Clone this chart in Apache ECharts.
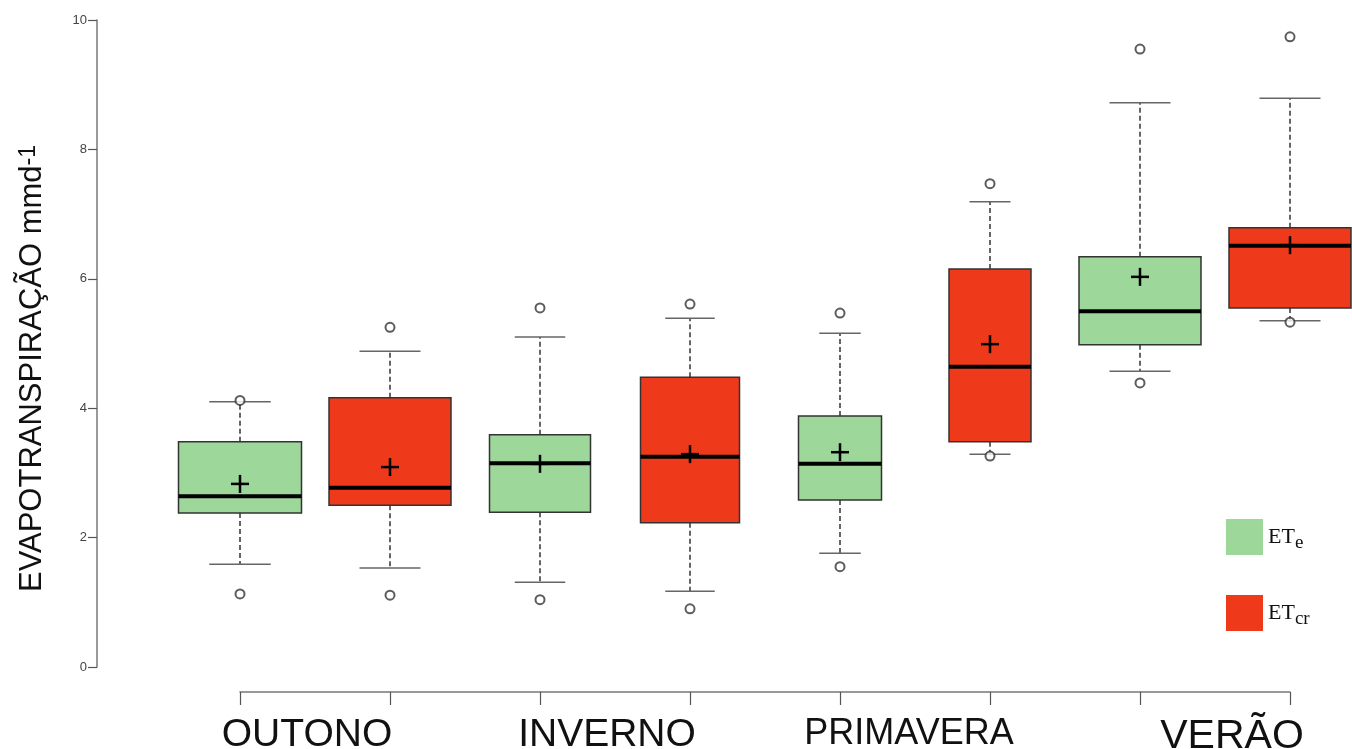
<!DOCTYPE html>
<html>
<head>
<meta charset="utf-8">
<script src="https://cdn.jsdelivr.net/npm/echarts@6/dist/echarts.min.js"></script>
<style>
  html, body { margin: 0; padding: 0; background: #ffffff; }
  #chart { width: 1352px; height: 749px; }
</style>
</head>
<body>
<div id="chart"></div>
<script>
// ---------- DATA ----------
const seasons = ['OUTONO', 'INVERNO', 'PRIMAVERA', 'VERÃO'];
const slots = ['OUTONO-ETe', 'OUTONO-ETcr', 'INVERNO-ETe', 'INVERNO-ETcr',
               'PRIMAVERA-ETe', 'PRIMAVERA-ETcr', 'VERÃO-ETe', 'VERÃO-ETcr'];
const yTicks = [0, 2, 4, 6, 8, 10];

// [min whisker, Q1, median, Q3, max whisker]
const eteStats = [
  [1.59, 2.38, 2.64, 3.48, 4.10],
  [1.31, 2.39, 3.15, 3.59, 5.10],
  [1.76, 2.58, 3.14, 3.88, 5.16],
  [4.57, 4.98, 5.50, 6.34, 8.72]
];
const eteMeans = [2.83, 3.14, 3.32, 6.03];
const eteOutliers = [[4.12, 1.13], [5.55, 1.04], [5.47, 1.55], [9.55, 4.39]];

const etcrStats = [
  [1.53, 2.50, 2.77, 4.16, 4.88],
  [1.17, 2.23, 3.25, 4.48, 5.39],
  [3.29, 3.48, 4.64, 6.15, 7.19],
  [5.35, 5.55, 6.51, 6.79, 8.79]
];
const etcrMeans = [3.09, 3.29, 4.99, 6.52];
const etcrOutliers = [[5.25, 1.11], [5.61, 0.90], [7.47, 3.26], [9.74, 5.33]];

// ---------- STYLE ----------
const GREEN = '#9dd79a';
const RED = '#ee3a1b';
const eteBoxWidths = [123, 101, 83, 122];   // px, per season (style)
const etcrBoxWidths = [122, 99, 82, 122];

function makeRender(widths, fill) {
  return function (params, api) {
    const i = params.dataIndex;
    const xi = api.value(0);
    const pt = v => api.coord([xi, v]);
    const cx = pt(api.value(1))[0];
    const yMin = pt(api.value(1))[1];
    const yQ1 = pt(api.value(2))[1];
    const yMed = pt(api.value(3))[1];
    const yQ3 = pt(api.value(4))[1];
    const yMax = pt(api.value(5))[1];
    const yMean = pt(api.value(6))[1];
    const w = widths[i], hw = w / 2, cap = w / 4;
    const dash = { stroke: '#333', lineWidth: 1.5, lineDash: [5, 3] };
    const capS = { stroke: '#666', lineWidth: 1.5 };
    return {
      type: 'group',
      children: [
        { type: 'line', shape: { x1: cx, y1: yQ1, x2: cx, y2: yMin }, style: dash },
        { type: 'line', shape: { x1: cx, y1: yQ3, x2: cx, y2: yMax }, style: dash },
        { type: 'line', shape: { x1: cx - cap, y1: yMin, x2: cx + cap, y2: yMin }, style: capS },
        { type: 'line', shape: { x1: cx - cap, y1: yMax, x2: cx + cap, y2: yMax }, style: capS },
        { type: 'rect', shape: { x: cx - hw, y: yQ3, width: w, height: yQ1 - yQ3 },
          style: { fill: fill, stroke: '#333', lineWidth: 1.5 } },
        { type: 'line', shape: { x1: cx - hw, y1: yMed, x2: cx + hw, y2: yMed },
          style: { stroke: '#000', lineWidth: 4 } },
        { type: 'line', shape: { x1: cx - 9, y1: yMean, x2: cx + 9, y2: yMean },
          style: { stroke: '#000', lineWidth: 2.5 } },
        { type: 'line', shape: { x1: cx, y1: yMean - 9, x2: cx, y2: yMean + 9 },
          style: { stroke: '#000', lineWidth: 2.5 } }
      ]
    };
  };
}

const eteData = eteStats.map((s, i) => [2 * i, ...s, eteMeans[i]]);
const etcrData = etcrStats.map((s, i) => [2 * i + 1, ...s, etcrMeans[i]]);
const eteOutData = eteOutliers.flatMap((vals, i) => vals.map(v => [2 * i, v]));
const etcrOutData = etcrOutliers.flatMap((vals, i) => vals.map(v => [2 * i + 1, v]));

const labelRich = {
  s0: { fontFamily: 'Liberation Sans', fontSize: 39, color: '#111', padding: [0, 0, 0, 134] },
  s1: { fontFamily: 'Liberation Sans', fontSize: 39, color: '#111', padding: [0, 0, 0, 134] },
  s2: { fontFamily: 'Liberation Sans', fontSize: 36, color: '#111', padding: [0, 0, 0, 138] },
  s3: { fontFamily: 'Liberation Sans', fontSize: 41, color: '#111', padding: [0, 0, 0, 184] }
};

const chart = echarts.init(document.getElementById('chart'), null, { renderer: 'canvas' });
chart.setOption({
  animation: false,
  backgroundColor: '#ffffff',
  grid: { left: 240, right: 62, top: 20, bottom: 82, containLabel: false, outerBoundsMode: 'none' },
  legend: {
    data: ['ETe', 'ETcr'],
    orient: 'vertical',
    left: 1221,
    top: 514,
    icon: 'rect',
    itemWidth: 37,
    itemHeight: 36,
    itemGap: 40,
    itemStyle: { borderWidth: 0 },
    selectedMode: false,
    formatter: name => name === 'ETe' ? '{b|ET}{s|e}' : '{b|ET}{s|cr}',
    textStyle: {
      rich: {
        b: { fontFamily: 'Liberation Serif', fontSize: 22, color: '#111' },
        s: { fontFamily: 'Liberation Serif', fontSize: 19, color: '#111', padding: [12, 0, 0, 0] }
      }
    }
  },
  xAxis: {
    type: 'category',
    data: slots,
    boundaryGap: false,
    offset: 25,
    axisLine: { onZero: false, lineStyle: { color: '#777', width: 1.5 } },
    axisTick: { length: 13, interval: 0, lineStyle: { color: '#555', width: 1.2 } },
    axisLabel: {
      interval: 1,
      margin: 24,
      formatter: (v, idx) => '{s' + (idx / 2) + '|' + seasons[idx / 2] + '}',
      rich: labelRich
    },
    splitLine: { show: false }
  },
  yAxis: {
    type: 'value',
    min: yTicks[0],
    max: yTicks[yTicks.length - 1],
    interval: 2,
    offset: 143,
    name: 'EVAPOTRANSPIRAÇÃO mmd{sup|-1}',
    nameLocation: 'middle',
    nameRotate: 90,
    nameGap: 49,
    nameTextStyle: {
      fontFamily: 'Liberation Sans',
      fontSize: 31,
      color: '#111',
      padding: [0, 50, 0, 0],
      rich: {
        sup: { fontFamily: 'Liberation Sans', fontSize: 23, color: '#111', padding: [0, 0, 8, 0] }
      }
    },
    axisLine: { show: true, onZero: false, lineStyle: { color: '#777', width: 1.5 } },
    axisTick: { show: true, length: 9, lineStyle: { color: '#555', width: 1.2 } },
    axisLabel: { margin: 10, fontFamily: 'Liberation Sans', fontSize: 13, color: '#444' },
    splitLine: { show: false }
  },
  series: [
    {
      name: 'ETe', type: 'custom', data: eteData,
      encode: { x: 0, y: [1, 2, 3, 4, 5, 6] },
      itemStyle: { color: GREEN },
      renderItem: makeRender(eteBoxWidths, GREEN), z: 2
    },
    {
      name: 'ETcr', type: 'custom', data: etcrData,
      encode: { x: 0, y: [1, 2, 3, 4, 5, 6] },
      itemStyle: { color: RED },
      renderItem: makeRender(etcrBoxWidths, RED), z: 2
    },
    {
      name: 'ETe outliers', type: 'scatter', data: eteOutData,
      symbol: 'emptyCircle', symbolSize: 9,
      itemStyle: { color: '#333', borderWidth: 1.2 }, z: 5
    },
    {
      name: 'ETcr outliers', type: 'scatter', data: etcrOutData,
      symbol: 'emptyCircle', symbolSize: 9,
      itemStyle: { color: '#333', borderWidth: 1.2 }, z: 5
    }
  ]
});
</script>
</body>
</html>
